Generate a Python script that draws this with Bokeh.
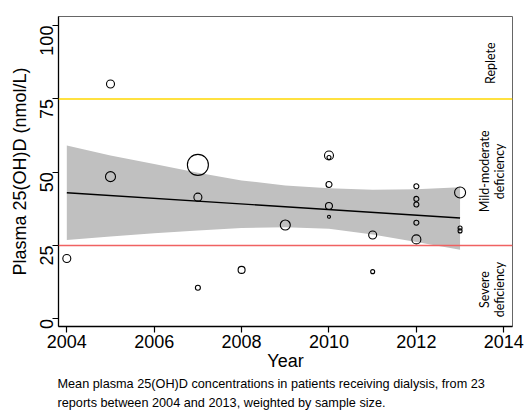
import math
from bokeh.plotting import figure
from bokeh.models import Range1d, Span, Label, FixedTicker, ColumnDataSource, Title
from bokeh.embed import file_html
from bokeh.resources import INLINE

# ---- data ----
pt_years = [2004, 2005, 2005, 2007, 2007, 2007, 2008, 2009,
            2010, 2010, 2010, 2010, 2010, 2011, 2011,
            2012, 2012, 2012, 2012, 2012, 2013, 2013, 2013]
pt_values = [20.6, 80.1, 48.5, 52.5, 41.5, 10.6, 16.7, 32.0,
             55.7, 55.0, 45.8, 38.5, 34.8, 28.6, 16.1,
             45.2, 40.9, 39.0, 32.8, 27.1, 43.1, 31.0, 30.0]
pt_sizes = [8, 8, 10, 21, 8, 5, 7, 10,
            9, 4, 6, 7, 3, 8, 4,
            5, 5, 5, 5, 9, 11, 4, 4]

fit_years = [2004, 2013]
fit_values = [43.0, 34.4]

band_years = [2004, 2005, 2006, 2007, 2008, 2009, 2010, 2011, 2012, 2013]
band_upper = [59.1, 55.7, 52.8, 49.8, 47.2, 45.5, 44.5, 44.0, 44.2, 44.9]
band_lower = [26.9, 28.1, 29.2, 30.1, 31.0, 31.2, 30.7, 28.8, 26.2, 23.6]

x_ticks = [2004, 2006, 2008, 2010, 2012, 2014]
y_ticks = [0, 25, 50, 75, 100]
replete_level = 75
severe_level = 25

zone_texts = ["Replete", "Mild-moderate\ndeficiency", "Severe\ndeficiency"]

caption_lines = [
    "Mean plasma 25(OH)D concentrations in patients receiving dialysis, from 23",
    "reports between 2004 and 2013, weighted by sample size.",
]

AX_FONT = "Liberation Sans"

p = figure(width=526, height=412, output_backend="svg", toolbar_location=None,
           x_range=Range1d(2003.81, 2014.2), y_range=Range1d(-2.6, 103.1),
           min_border_left=58, min_border_right=14, min_border_top=16,
           min_border_bottom=86)

p.xgrid.visible = False
p.ygrid.visible = False
p.outline_line_color = "#666666"
p.outline_line_width = 1
p.background_fill_color = "white"
p.border_fill_color = "white"

# band and fit
p.varea(x=band_years, y1=band_lower, y2=band_upper, fill_color="#c0c0c0")
p.line(fit_years, fit_values, line_color="black", line_width=1.3)

# reference lines
p.add_layout(Span(location=replete_level, dimension="width",
                  line_color="#ffd700", line_width=1.5))
p.add_layout(Span(location=severe_level, dimension="width",
                  line_color="#f06262", line_width=1.5))

# points
src = ColumnDataSource(dict(x=pt_years, y=pt_values, s=pt_sizes))
p.scatter("x", "y", size="s", source=src, marker="circle",
          fill_color=None, line_color="black", line_width=1.1)

# axes
p.xaxis.ticker = FixedTicker(ticks=x_ticks)
p.yaxis.ticker = FixedTicker(ticks=y_ticks)
for ax in (p.xaxis[0], p.yaxis[0]):
    ax.axis_line_color = "black"
    ax.axis_line_width = 1.3
    ax.major_tick_line_color = "black"
    ax.major_tick_line_width = 1.2
    ax.major_tick_out = 6
    ax.major_tick_in = 0
    ax.minor_tick_line_color = None
    ax.major_label_text_font = AX_FONT
    ax.major_label_text_font_size = "18px"
    ax.major_label_text_color = "black"
    ax.axis_label_text_font = AX_FONT
    ax.axis_label_text_font_size = "18px"
    ax.axis_label_text_font_style = "normal"
    ax.axis_label_text_color = "black"

p.xaxis.axis_label = "Year"
p.xaxis.major_label_standoff = 2
p.xaxis.axis_label_standoff = 0
p.yaxis.axis_label = "Plasma 25(OH)D (nmol/L)"
p.yaxis.major_label_orientation = math.pi / 2
p.yaxis.major_label_standoff = 6
p.yaxis.axis_label_standoff = 1

# zone labels
zone_font = "Lato"
for txt, yy, xx in zip(zone_texts, [87.2, 50.3, 10.0], [2013.70, 2013.74, 2013.74]):
    p.add_layout(Label(x=xx, y=yy, text=txt, angle=math.pi / 2,
                       text_align="center", text_baseline="middle",
                       text_font=zone_font, text_font_size="12.5px",
                       text_line_height=1.0, text_color="black"))

# caption below the plot
for line in caption_lines:
    p.add_layout(Title(text=line, align="left", standoff=2.5, offset=-1,
                       text_font="Liberation Sans",
                       text_font_size="12.7px", text_font_style="normal",
                       text_color="black"), "below")

open("out.html", "w").write(file_html(p, INLINE))
